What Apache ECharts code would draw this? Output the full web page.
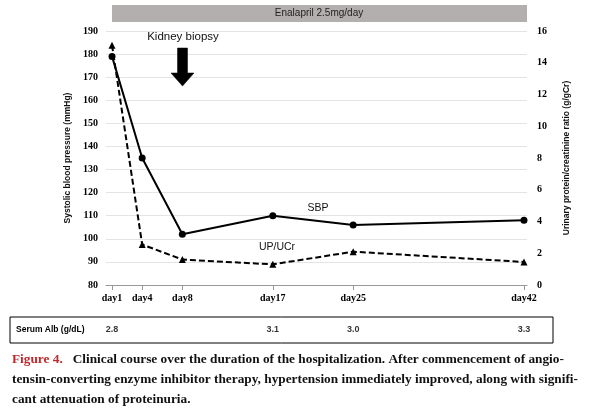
<!DOCTYPE html><html><head><meta charset="utf-8"><script src="https://cdn.jsdelivr.net/npm/echarts@6/dist/echarts.min.js"></script>
<style>body{margin:0;background:#fff}#c{width:598px;height:417px}</style></head><body><div id="c"></div><script>
var days=[1,4,8,17,25,42];
var dayLabels=['day1','day4','day8','day17','day25','day42'];
var sbp=[179,135,102,110,106,108];
var upucr=[15.1,2.55,1.6,1.3,2.1,1.45];
var albDays=[1,17,25,42];
var albVals=['2.8','3.1','3.0','3.3'];
var serif='"Liberation Serif","DejaVu Serif",serif';
var ch=echarts.init(document.getElementById('c'));
var L=106,R=71;
var cap='bold 13.3px "Liberation Serif",serif';
ch.setOption({animation:false,
grid:[{left:L,right:R,top:31,bottom:132},{left:L,right:R,top:317,height:26}],
xAxis:[{type:'value',min:0.4,max:42.3,gridIndex:0,
 axisLine:{show:true,lineStyle:{color:'#999'}},splitLine:{show:false},
 axisTick:{show:true,customValues:days,length:5,lineStyle:{color:'#999'}},
 axisLabel:{customValues:days,formatter:function(v){return 'day'+v;},color:'#000',fontFamily:serif,fontWeight:'bold',fontSize:10,margin:8}},
 {type:'value',min:0.4,max:42.3,gridIndex:1,show:false}],
yAxis:[{type:'value',min:80,max:190,interval:10,gridIndex:0,
 name:'Systolic blood pressure (mmHg)',nameLocation:'middle',nameGap:34,nameTextStyle:{fontSize:8.5,fontWeight:'bold',color:'#111'},
 axisLine:{show:false},axisTick:{show:false},splitLine:{lineStyle:{color:'#e4e4e4'}},
 axisLabel:{color:'#000',fontFamily:serif,fontWeight:'bold',fontSize:10}},
 {type:'value',min:0,max:16,interval:2,gridIndex:0,position:'right',
 name:'Urinary protein/creatinine ratio (g/gCr)',nameLocation:'middle',nameGap:35,nameRotate:90,nameTextStyle:{fontSize:8.5,fontWeight:'bold',color:'#111'},
 axisLine:{show:false},axisTick:{show:false},splitLine:{show:false},
 axisLabel:{color:'#000',fontFamily:serif,fontWeight:'bold',fontSize:10,margin:10}},
 {type:'value',min:0,max:1,gridIndex:1,show:false}],
series:[
 {type:'line',data:days.map(function(d,i){return [d,sbp[i]];}),symbol:'circle',symbolSize:7,
  lineStyle:{color:'#000',width:2},itemStyle:{color:'#000'}},
 {type:'line',yAxisIndex:1,data:days.map(function(d,i){return [d,upucr[i]];}),symbol:'triangle',symbolSize:7,
  lineStyle:{color:'#000',width:2,type:[6,3]},itemStyle:{color:'#000'}},
 {type:'scatter',xAxisIndex:1,yAxisIndex:2,data:albDays.map(function(d,i){return [d,0.5,albVals[i]];}),symbolSize:0,
  label:{show:true,position:'inside',formatter:function(p){return p.value[2];},fontSize:9,fontWeight:'bold',color:'#000'}}
],
graphic:[
 {type:'rect',shape:{x:112,y:5,width:415,height:17},style:{fill:'#b3afaf'}},
 {type:'text',x:319,y:13.5,style:{text:'Enalapril 2.5mg/day',fontSize:10,fill:'#222',align:'center',verticalAlign:'middle'}},
 {type:'text',x:183,y:37,style:{text:'Kidney biopsy',fontSize:11.5,fill:'#111',align:'center',verticalAlign:'middle'}},
 {type:'polygon',z:100,shape:{points:[[177.5,48],[187.5,48],[187.5,73],[194,73],[182.5,86],[171,73],[177.5,73]]},style:{fill:'#000',stroke:'#000',lineWidth:0.5}},
 {type:'text',x:318,y:208,style:{text:'SBP',fontSize:10.5,fill:'#111',align:'center',verticalAlign:'middle'}},
 {type:'text',x:277,y:247,style:{text:'UP/UCr',fontSize:10.5,fill:'#111',align:'center',verticalAlign:'middle'}},
 {type:'rect',shape:{x:10,y:317,width:543,height:26},style:{fill:'none',stroke:'#000',lineWidth:1}},
 {type:'text',x:16,y:330,style:{text:'Serum Alb (g/dL)',fontSize:8.5,fontWeight:'bold',fill:'#000',verticalAlign:'middle'}},
 {type:'text',x:12,y:353,style:{rich:{r:{fill:'#c0282d',fontFamily:serif,fontWeight:'bold',fontSize:13.3},b:{fill:'#111',fontFamily:serif,fontWeight:'bold',fontSize:13.3}},text:'{r|Figure 4.}{b|   Clinical course over the duration of the hospitalization. After commencement of angio-}'}},
 {type:'text',x:12,y:373,style:{fill:'#111',font:cap,text:'tensin-converting enzyme inhibitor therapy, hypertension immediately improved, along with signifi-'}},
 {type:'text',x:12,y:393,style:{fill:'#111',font:cap,text:'cant attenuation of proteinuria.'}}
]});
</script></body></html>
